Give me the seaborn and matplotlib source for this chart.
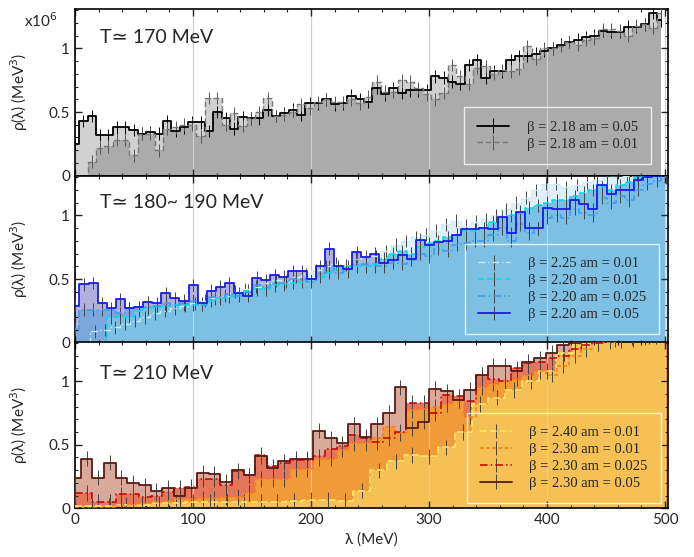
import matplotlib
matplotlib.use('Agg')
import matplotlib.pyplot as plt
from matplotlib.ticker import MultipleLocator, FuncFormatter
import numpy as np
import seaborn as sns

# ---- data (rho in units of 1e6 MeV^3) ----
# bin widths in MeV, one per lattice spacing
width_218 = 7.1
width_220 = 7.7
width_225 = 8.5
width_230 = 9.85
width_240 = 14.3

# T ~ 170 MeV
rho_218_005 = [0.25, 0.43, 0.47, 0.32, 0.32, 0.38, 0.38, 0.36, 0.33, 0.34,
               0.33, 0.43, 0.35, 0.38, 0.42, 0.42, 0.35, 0.50, 0.45, 0.37,
               0.46, 0.45, 0.45, 0.52, 0.47, 0.49, 0.52, 0.48, 0.57, 0.57,
               0.60, 0.56, 0.57, 0.63, 0.60, 0.58, 0.69, 0.64, 0.69, 0.65,
               0.67, 0.67, 0.67, 0.78, 0.77, 0.74, 0.72, 0.87, 0.91, 0.77,
               0.82, 0.82, 0.91, 0.94, 0.94, 0.96, 0.98, 1.00, 1.03, 1.05,
               1.07, 1.09, 1.10, 1.14, 1.13, 1.13, 1.17, 1.17, 1.19, 1.28,
               1.22]
rho_218_001 = [0.00, 0.00, 0.11, 0.22, 0.23, 0.28, 0.28, 0.16, 0.33, 0.33,
               0.20, 0.37, 0.38, 0.40, 0.40, 0.31, 0.61, 0.61, 0.40, 0.49,
               0.39, 0.45, 0.50, 0.61, 0.47, 0.48, 0.50, 0.56, 0.53, 0.58,
               0.60, 0.58, 0.58, 0.60, 0.57, 0.62, 0.74, 0.66, 0.66, 0.75,
               0.74, 0.69, 0.64, 0.60, 0.65, 0.87, 0.78, 0.72, 0.85, 0.86,
               0.80, 0.83, 0.82, 0.84, 1.02, 0.92, 1.00, 1.00, 1.02, 1.05,
               1.03, 1.07, 1.08, 1.15, 1.15, 1.14, 1.10, 1.18, 1.19, 1.16,
               1.28]

# T ~ 180-190 MeV
rho_225_001 = [0.00, 0.00, 0.09, 0.10, 0.12, 0.15, 0.17, 0.20, 0.23, 0.25,
               0.27, 0.29, 0.31, 0.33, 0.35, 0.37, 0.40, 0.42, 0.44, 0.47,
               0.49, 0.48, 0.52, 0.54, 0.57, 0.60, 0.62, 0.61, 0.66, 0.68,
               0.68, 0.72, 0.77, 0.80, 0.83, 0.85, 0.88, 0.93, 0.96, 0.92,
               0.95, 0.97, 1.00, 1.05, 1.10, 1.14, 1.20, 1.25, 1.25, 1.22,
               1.24, 1.26, 1.28, 1.30, 1.30, 1.31, 1.32, 1.33, 1.34, 1.35]
rho_220_001 = [0.00, 0.00, 0.00, 0.00, 0.20, 0.20, 0.20, 0.25, 0.27, 0.28,
               0.29, 0.30, 0.30, 0.30, 0.30, 0.33, 0.35, 0.36, 0.38, 0.41,
               0.42, 0.42, 0.45, 0.46, 0.47, 0.48, 0.50, 0.52, 0.55, 0.58,
               0.60, 0.60, 0.60, 0.62, 0.66, 0.70, 0.72, 0.70, 0.75, 0.78,
               0.80, 0.83, 0.85, 0.88, 0.88, 0.90, 0.95, 0.98, 1.00, 1.02,
               1.06, 1.08, 1.10, 1.12, 1.12, 1.15, 1.18, 1.20, 1.22, 1.20,
               1.24, 1.26, 1.30, 1.30, 1.32, 1.33]
rho_220_0025 = [0.11, 0.26, 0.26, 0.26, 0.26, 0.23, 0.27, 0.28, 0.28, 0.29,
                0.31, 0.30, 0.31, 0.33, 0.30, 0.36, 0.36, 0.38, 0.37, 0.40,
                0.45, 0.44, 0.47, 0.47, 0.50, 0.50, 0.48, 0.55, 0.60, 0.55,
                0.56, 0.62, 0.62, 0.60, 0.60, 0.63, 0.62, 0.65, 0.70, 0.68,
                0.74, 0.72, 0.77, 0.78, 0.80, 0.80, 0.85, 0.90, 0.80, 0.93,
                0.86, 0.90, 0.98, 1.00, 0.98, 1.05, 1.02, 1.00, 1.14, 1.10,
                1.15, 1.12, 1.20, 1.25, 1.27, 1.30]
rho_220_005 = [0.29, 0.46, 0.47, 0.31, 0.27, 0.34, 0.27, 0.28, 0.32, 0.31,
               0.39, 0.35, 0.33, 0.45, 0.31, 0.41, 0.44, 0.47, 0.39, 0.37,
               0.51, 0.49, 0.53, 0.52, 0.56, 0.56, 0.50, 0.60, 0.74, 0.60,
               0.58, 0.71, 0.67, 0.70, 0.63, 0.65, 0.69, 0.66, 0.81, 0.77,
               0.79, 0.80, 0.85, 0.89, 0.89, 0.90, 0.89, 0.99, 0.86, 1.03,
               0.90, 0.90, 1.06, 1.05, 1.05, 1.12, 1.09, 1.05, 1.24, 1.17,
               1.20, 1.20, 1.28, 1.30, 1.31, 1.32]

# T ~ 210 MeV
rho_240_001 = [0.02, 0.02, 0.02, 0.03, 0.03, 0.04, 0.04, 0.05, 0.05, 0.05,
               0.05, 0.05, 0.05, 0.06, 0.065, 0.065, 0.06, 0.14, 0.30, 0.37,
               0.42, 0.41, 0.48, 0.60, 0.82, 0.87, 0.93, 1.00, 1.08, 1.22,
               1.30, 1.32, 1.33, 1.34, 1.35, 1.36]
rho_230_001 = [0.00, 0.00, 0.00, 0.00, 0.02, 0.03, 0.04, 0.05, 0.06, 0.07,
               0.07, 0.08, 0.08, 0.09, 0.09, 0.12, 0.23, 0.23, 0.23, 0.31,
               0.31, 0.39, 0.39, 0.46, 0.51, 0.51, 0.55, 0.64, 0.59, 0.77,
               0.78, 0.80, 0.82, 0.85, 0.72, 0.95, 0.98, 1.00, 1.02, 1.05,
               1.08, 1.05, 1.12, 1.20, 1.25, 1.30, 1.31, 1.32, 1.33, 1.34,
               1.35, 1.36]
rho_230_0025 = [0.12, 0.12, 0.05, 0.05, 0.11, 0.11, 0.09, 0.10, 0.13, 0.16,
                0.17, 0.23, 0.23, 0.18, 0.29, 0.26, 0.42, 0.33, 0.36, 0.38,
                0.38, 0.41, 0.47, 0.49, 0.58, 0.55, 0.52, 0.55, 0.60, 0.83,
                0.83, 0.75, 0.89, 0.88, 0.84, 1.05, 1.02, 1.00, 1.10, 1.14,
                1.15, 1.18, 1.20, 1.25, 1.28, 1.30, 1.32, 1.33, 1.34, 1.35,
                1.36, 1.37]
rho_230_005 = [0.24, 0.39, 0.24, 0.36, 0.24, 0.20, 0.18, 0.14, 0.16, 0.10,
               0.16, 0.28, 0.27, 0.21, 0.30, 0.26, 0.41, 0.32, 0.37, 0.39,
               0.39, 0.61, 0.55, 0.51, 0.66, 0.56, 0.66, 0.75, 0.95, 0.63,
               0.68, 0.94, 0.92, 0.85, 0.93, 1.05, 1.12, 1.12, 1.08, 1.15,
               1.18, 1.22, 1.28, 1.30, 1.31, 1.32, 1.33, 1.34, 1.35, 1.36,
               1.37, 1.38]

# typical statistical error per series
err_top = 0.05
err_mid = 0.05
err_bot = 0.06

panel_titles = ['T\u2243 170 MeV', 'T\u2243 180~ 190 MeV', 'T\u2243 210 MeV']

# ---- style ----
sns.set_theme(style='ticks')
plt.rcParams['font.family'] = ['Lato', 'DejaVu Sans']
plt.rcParams['xtick.direction'] = 'in'
plt.rcParams['ytick.direction'] = 'in'
plt.rcParams['axes.edgecolor'] = 'black'
plt.rcParams['axes.linewidth'] = 1.2

# (values, width, line colour, linestyle, linewidth, fill colour, fill alpha, ecolor, label)
top_series = [
    (rho_218_005, width_218, 'black', '-', 1.3, 'black', 0.18, 'black', '\u03b2 = 2.18 am = 0.05'),
    (rho_218_001, width_218, '#777777', (0, (4, 2)), 1.0, 'black', 0.18, '#555555', '\u03b2 = 2.18 am = 0.01'),
]
mid_fill_order = [
    (rho_220_005, width_220, '#b1b1dd', 1.0),
    (rho_220_0025, width_220, '#7ca7dc', 1.0),
    (rho_225_001, width_225, '#7dc0e4', 0.25),
    (rho_220_001, width_220, '#7dc0e4', 1.0),
]
mid_series = [
    (rho_225_001, width_225, '#c6f0f0', (0, (5, 2, 1, 2)), 1.0, '#444444', '\u03b2 = 2.25 am = 0.01'),
    (rho_220_001, width_220, '#00dcec', (0, (4, 2)), 1.1, '#444444', '\u03b2 = 2.20 am = 0.01'),
    (rho_220_0025, width_220, '#3a9cf0', (0, (5, 2, 1, 2)), 1.1, '#444444', '\u03b2 = 2.20 am = 0.025'),
    (rho_220_005, width_220, '#1a1aee', '-', 1.3, '#444444', '\u03b2 = 2.20 am = 0.05'),
]
bot_fill_order = [
    (rho_230_005, width_230, '#d9aa9a', 1.0),
    (rho_230_0025, width_230, '#e5765b', 1.0),
    (rho_230_001, width_230, '#f19b38', 1.0),
    (rho_240_001, width_240, '#f5c154', 1.0),
]
bot_series = [
    (rho_240_001, width_240, '#ffe866', (0, (4, 2)), 1.2, '#444444', '\u03b2 = 2.40 am = 0.01'),
    (rho_230_001, width_230, '#ff7a14', (0, (2.5, 1.5)), 1.1, '#444444', '\u03b2 = 2.30 am = 0.01'),
    (rho_230_0025, width_230, '#c00000', (0, (5, 2, 1, 2)), 1.1, '#444444', '\u03b2 = 2.30 am = 0.025'),
    (rho_230_005, width_230, '#5a1a14', '-', 1.3, '#444444', '\u03b2 = 2.30 am = 0.05'),
]


def draw_fill(ax, vals, width, color, alpha):
    vals = np.asarray(vals)
    lam = np.arange(len(vals)) * width
    ax.fill_between(lam, vals, step='mid', color=color, alpha=alpha, lw=0, zorder=1)


def draw_line(ax, vals, width, color, ls, lw, ecolor, err, label):
    vals = np.asarray(vals)
    lam = np.arange(len(vals)) * width
    yerr = np.where(vals > 0, err, 0.0)
    return ax.errorbar(lam, vals, yerr=yerr, drawstyle='steps-mid', color=color,
                       ls=ls, lw=lw, ecolor=ecolor, elinewidth=0.7, capsize=0,
                       zorder=3, label=label)


fig = plt.figure(figsize=(6.94, 5.57), dpi=100)
left, width = 0.108, 0.8545
height = 0.2993
ax_top = fig.add_axes([left, 0.6846, width, height])
ax_mid = fig.add_axes([left, 0.3847, width, height])
ax_bot = fig.add_axes([left, 0.0874, width, height])
axes = [ax_top, ax_mid, ax_bot]

# top panel
for vals, w, lc, ls, lw, fc, fa, ec, lab in top_series:
    draw_fill(ax_top, vals, w, fc, fa)
top_handles = []
for vals, w, lc, ls, lw, fc, fa, ec, lab in top_series:
    top_handles.append(draw_line(ax_top, vals, w, lc, ls, lw, ec, err_top, lab))

# middle panel
for vals, w, fc, fa in mid_fill_order:
    draw_fill(ax_mid, vals, w, fc, fa)
mid_handles = []
for vals, w, lc, ls, lw, ec, lab in mid_series:
    mid_handles.append(draw_line(ax_mid, vals, w, lc, ls, lw, ec, err_mid, lab))

# bottom panel
for vals, w, fc, fa in bot_fill_order:
    draw_fill(ax_bot, vals, w, fc, fa)
bot_handles = []
for vals, w, lc, ls, lw, ec, lab in bot_series:
    bot_handles.append(draw_line(ax_bot, vals, w, lc, ls, lw, ec, err_bot, lab))

fmt = FuncFormatter(lambda v, p: '%g' % round(v, 2))
title_y = [0.83, 0.84, 0.81]
for i, ax in enumerate(axes):
    ax.set_xlim(0, 502.5)
    ax.set_ylim(0, 1.31)
    ax.xaxis.set_major_locator(MultipleLocator(100))
    ax.xaxis.set_minor_locator(MultipleLocator(20))
    ax.yaxis.set_major_locator(MultipleLocator(0.5))
    ax.yaxis.set_minor_locator(MultipleLocator(0.1))
    ax.yaxis.set_major_formatter(fmt)
    ax.tick_params(which='both', top=True, right=True, direction='in', labelsize=11)
    ax.tick_params(which='major', length=5, width=1.0)
    ax.tick_params(which='minor', length=2.5, width=0.8)
    ax.set_axisbelow('line')
    ax.xaxis.grid(True, which='major', color='#d0d0d0', lw=0.8)
    ax.yaxis.grid(False)
    ax.set_facecolor('white')
    ax.set_ylabel('\u03c1(\u03bb) (MeV$^3$)', fontsize=11)
    ax.yaxis.set_label_coords(-0.075, 0.5)
    ax.text(0.042, title_y[i], panel_titles[i], transform=ax.transAxes,
            fontsize=14, va='center', ha='left')
    if ax is not ax_bot:
        ax.tick_params(labelbottom=False)

ax_bot.set_xlabel('\u03bb (MeV)', fontsize=11)
ax_bot.xaxis.set_major_formatter(FuncFormatter(lambda v, p: '%d' % v))
ax_top.text(-0.03, 0.93, 'x10$^6$', transform=ax_top.transAxes, fontsize=11,
            ha='right', va='center')

leg_kw = dict(frameon=True, prop={'family': 'Liberation Serif', 'size': 10.5},
              handlelength=2.2, handletextpad=1.2, labelspacing=0.25,
              borderpad=0.9, borderaxespad=0)
leg = ax_top.legend(handles=top_handles, loc='upper right',
                    bbox_to_anchor=(0.971, 0.41), **leg_kw)
leg2 = ax_mid.legend(handles=mid_handles, loc='upper right',
                     bbox_to_anchor=(0.985, 0.592), **leg_kw)
leg3 = ax_bot.legend(handles=bot_handles, loc='upper right',
                     bbox_to_anchor=(0.988, 0.572), **leg_kw)
for lg in (leg, leg2, leg3):
    frame = lg.get_frame()
    frame.set_facecolor('none')
    frame.set_edgecolor('white')
    frame.set_linewidth(1.0)
    frame.set_boxstyle('square', pad=0)
    lg.set_zorder(5)

fig.savefig('out.png', dpi=100)
